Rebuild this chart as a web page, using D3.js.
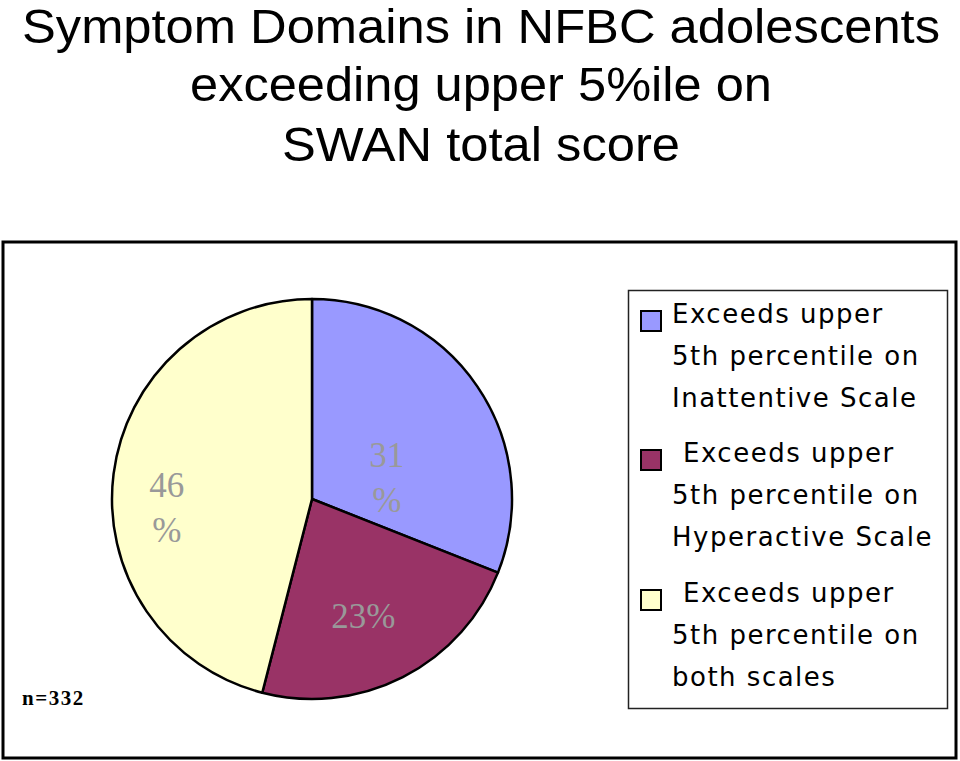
<!DOCTYPE html>
<html>
<head>
<meta charset="utf-8">
<script src="https://cdn.jsdelivr.net/npm/d3@7"></script>
<style>
  html, body { margin: 0; padding: 0; background: #fff; }
  svg { display: block; }
</style>
</head>
<body>
<svg id="chart" width="960" height="761"></svg>
<script>
// ---- data ----
const titleLines = ["Symptom Domains in NFBC adolescents", "exceeding upper 5%ile on", "SWAN total score"];
const categories = ["Inattentive", "Hyperactive", "Both"];
const values = [31, 23, 46];
const sliceLabels = [["31", "%"], ["23%"], ["46", "%"]];
const legendLines = [
  ["Exceeds upper", "5th percentile on", "Inattentive Scale"],
  ["Exceeds upper", "5th percentile on", "Hyperactive Scale"],
  ["Exceeds upper", "5th percentile on", "both scales"]
];
const sampleNote = "n=332";

// ---- styles / layout ----
const colors = ["#9999FF", "#993366", "#FFFFCC"];
const labelOffsets = [[-8, 35], [6, 28], [-46, 21]]; // nudge from centroid
const legendIndent = [0, 11, 11];
const titleBaselines = [43, 101, 161];
const titleWidths = [918, 582, 398];

const svg = d3.select("#chart");
const W = 960;

// title
const title = svg.append("g");
titleLines.forEach((t, i) => {
  title.append("text")
    .attr("x", W / 2 + 1).attr("y", titleBaselines[i])
    .attr("text-anchor", "middle")
    .attr("font-family", "Liberation Sans, Arial, sans-serif")
    .attr("font-size", 48)
    .attr("textLength", titleWidths[i])
    .attr("lengthAdjust", "spacingAndGlyphs")
    .attr("fill", "#000")
    .text(t);
});

// outer frame
svg.append("rect")
  .attr("x", 3).attr("y", 242).attr("width", 953).attr("height", 516)
  .attr("fill", "#fff").attr("stroke", "#000").attr("stroke-width", 3);

// pie
const cx = 312, cy = 499, R = 200;
const pie = d3.pie().sort(null).value(d => d)(values);
const arc = d3.arc().innerRadius(0).outerRadius(R);
const labelArc = d3.arc().innerRadius(100).outerRadius(100);
const g = svg.append("g").attr("transform", `translate(${cx},${cy})`);
g.selectAll("path.slice").data(pie).join("path")
  .attr("class", "slice")
  .attr("d", arc)
  .attr("fill", (d, i) => colors[i])
  .attr("stroke", "#000")
  .attr("stroke-width", 2.5)
  .attr("stroke-linejoin", "round");

g.selectAll("text.lbl").data(pie).join("text")
  .attr("class", "lbl")
  .attr("transform", (d, i) => {
    const c = labelArc.centroid(d);
    return `translate(${c[0] + labelOffsets[i][0]},${c[1] + labelOffsets[i][1]})`;
  })
  .attr("text-anchor", "middle")
  .attr("font-family", "Liberation Serif, Times New Roman, serif")
  .attr("font-size", 35)
  .attr("fill", "#999999")
  .each(function (d, i) {
    const lines = sliceLabels[i];
    const sel = d3.select(this);
    const n = lines.length;
    lines.forEach((l, j) => {
      sel.append("tspan")
        .attr("x", 0)
        .attr("y", (j - (n - 1) / 2) * 45 + 12)
        .text(l);
    });
  });

// legend
const lg = svg.append("g");
lg.append("rect")
  .attr("x", 628.5).attr("y", 290.5).attr("width", 319).attr("height", 418)
  .attr("fill", "#fff").attr("stroke", "#222").attr("stroke-width", 1.5);

const itemY = [323, 462, 602];
categories.forEach((c, i) => {
  lg.append("rect")
    .attr("x", 641).attr("y", itemY[i] - 12).attr("width", 20).attr("height", 20)
    .attr("fill", colors[i]).attr("stroke", "#000").attr("stroke-width", 2);
  legendLines[i].forEach((l, j) => {
    lg.append("text")
      .attr("x", 672 + (j === 0 ? legendIndent[i] : 0))
      .attr("y", itemY[i] + j * 42)
      .attr("font-family", "DejaVu Sans, Verdana, sans-serif")
      .attr("font-size", 26)
      .attr("letter-spacing", "1.5px")
      .attr("fill", "#000")
      .text(l);
  });
});

// sample size note
svg.append("text")
  .attr("x", 22).attr("y", 705)
  .attr("font-family", "Liberation Serif, Times New Roman, serif")
  .attr("font-weight", "bold")
  .attr("font-size", 21)
  .attr("letter-spacing", "1.5px")
  .attr("fill", "#000")
  .text(sampleNote);
</script>
</body>
</html>
